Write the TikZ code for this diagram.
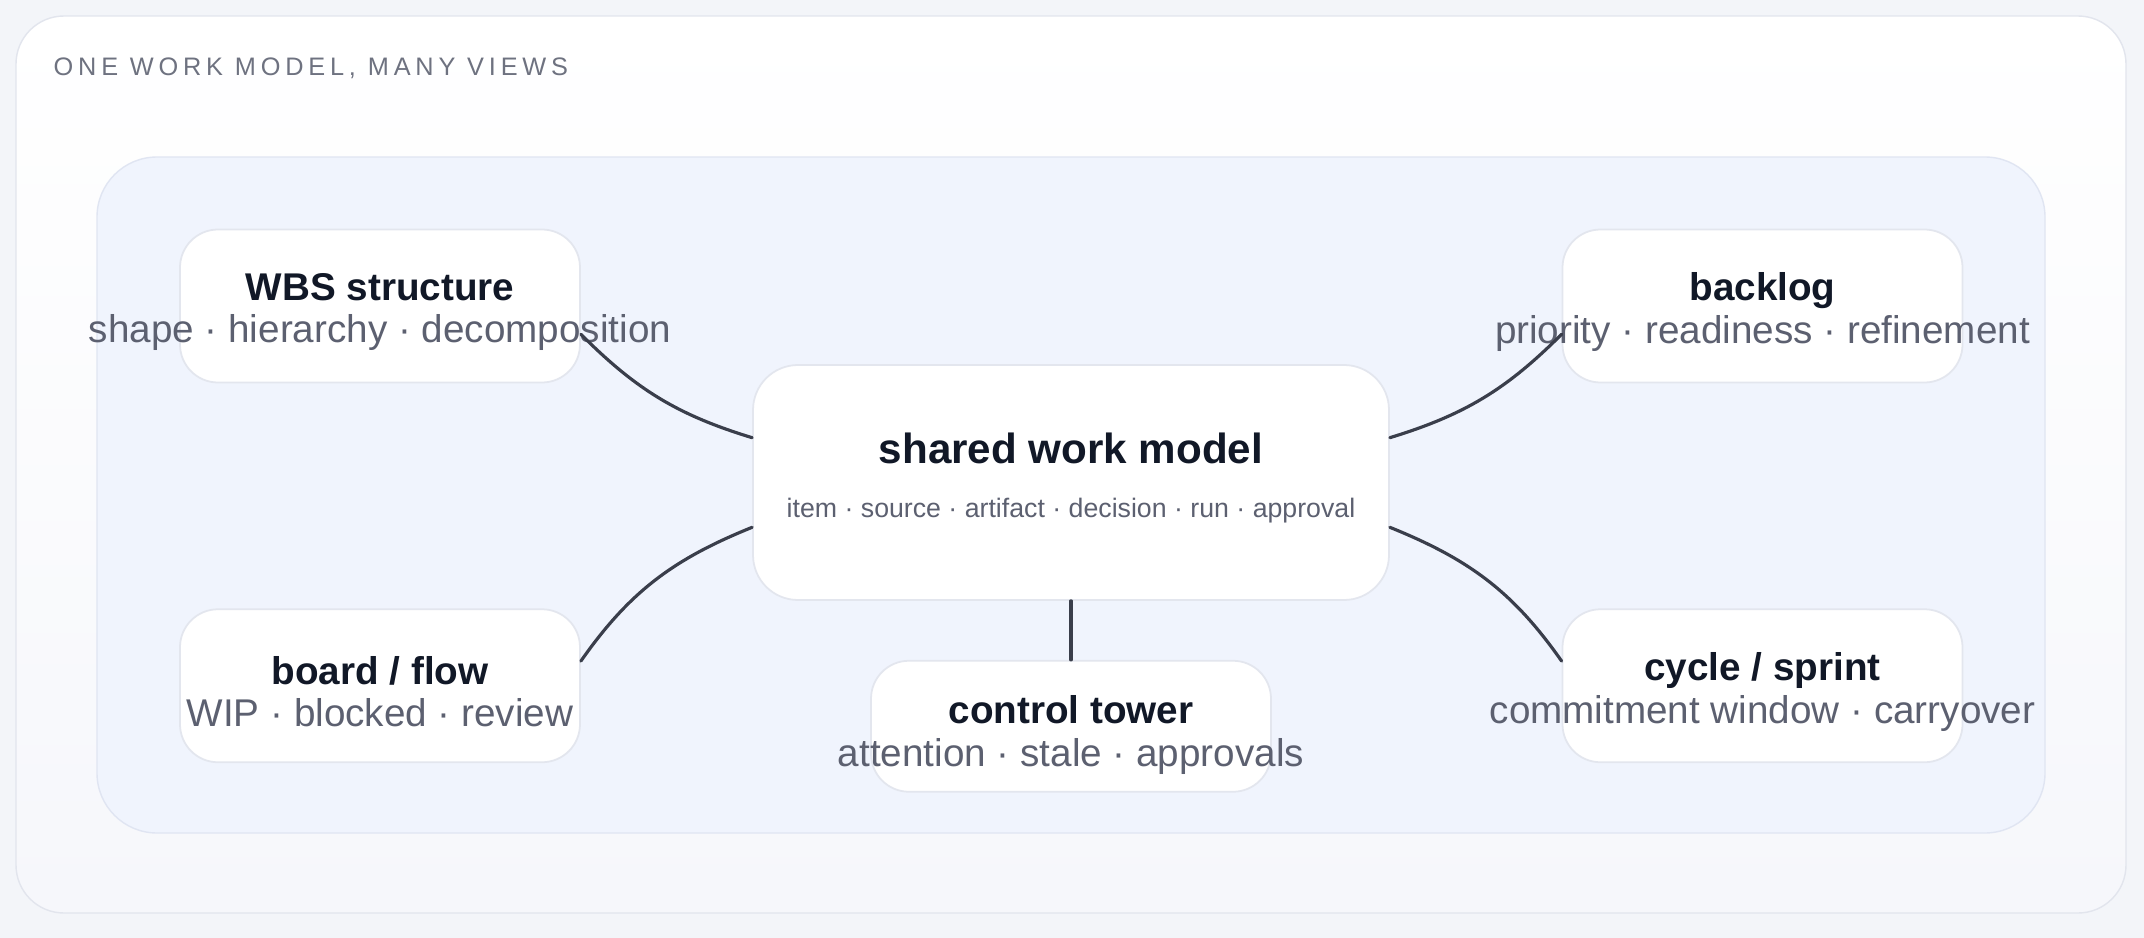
\documentclass[tikz,border=0pt]{standalone}
\usepackage{fontspec}
\setmainfont{Liberation Sans}
\usepackage{tikz}
\usetikzlibrary{
  positioning,
  backgrounds
}
\definecolor{PageGray}{RGB}{243,245,249}
\definecolor{CardTop}{RGB}{255,255,255}
\definecolor{CardBottom}{RGB}{246,247,251}
\definecolor{CardEdge}{RGB}{226,229,237}
\definecolor{PanelBlue}{RGB}{240,244,253}
\definecolor{PanelEdge}{RGB}{224,229,242}
\definecolor{BoxEdge}{RGB}{227,230,238}
\definecolor{TitleInk}{RGB}{17,24,39}
\definecolor{SubInk}{RGB}{92,96,112}
\definecolor{CaptionGray}{RGB}{110,114,128}
\definecolor{LinkInk}{RGB}{58,62,75}
\tikzset{
  viewbox/.style={draw=BoxEdge,fill=white,line width=0.5pt,rounded corners=3.8mm,minimum width=40mm,minimum height=15.3mm,inner sep=0pt},
  modelbox/.style={draw=BoxEdge,fill=white,line width=0.5pt,rounded corners=4.5mm,minimum width=63.6mm,minimum height=23.5mm,inner sep=0pt},
  viewtext/.style={align=center,font=\fontsize{11}{12.1}\selectfont,text=SubInk,inner sep=0pt,yshift=-0.6mm},
  modeltitle/.style={font=\fontsize{12}{14}\selectfont\bfseries,text=TitleInk,inner sep=0pt},
  modelsub/.style={font=\fontsize{7.6}{9}\selectfont,text=SubInk,inner sep=0pt},
  caption/.style={anchor=west,font=\fontsize{7.2}{8}\selectfont\addfontfeatures{LetterSpace=19},text=CaptionGray,inner sep=0pt},
  link/.style={draw=LinkInk,line width=0.9pt,line cap=round}
}
\newcommand{\viewtitle}[1]{{\color{TitleInk}\bfseries #1}}

\begin{document}
\begin{tikzpicture}
\useasboundingbox (0,0) rectangle (21.44,-9.38);
% page, card and panel
\fill[PageGray] (0,0) rectangle (21.44,-9.38);
\draw[draw=CardEdge,top color=CardTop,bottom color=CardBottom,rounded corners=4.8mm] (0.16,-0.16) rectangle (21.26,-9.13);
\draw[draw=PanelEdge,fill=PanelBlue,rounded corners=6mm] (0.97,-1.57) rectangle (20.45,-8.33);
\node[caption] (cap) at (0.53,-0.685) {ONE WORK MODEL, MANY VIEWS};

% boxes
\node[modelbox] (model) at (10.71,-4.825) {};
\node[viewbox] (wbs) at (3.80,-3.06) {};
\node[viewbox, below=22.5mm of wbs] (board) {};
\node[viewbox] (backlog) at (17.625,-3.06) {};
\node[viewbox, below=22.5mm of backlog] (cycle) {};
\node[viewbox, minimum height=13.1mm, below=5.9mm of model] (tower) {};

% texts
\node[modeltitle, yshift=3.4mm] (model-t) at (model) {shared work model};
\node[modelsub, yshift=-2.8mm] (model-s) at (model) {item · source · artifact · decision · run · approval};
\node[viewtext] (wbs-t) at (wbs) {\viewtitle{WBS structure}\\shape · hierarchy · decomposition};
\node[viewtext] (board-t) at (board) {\viewtitle{board / flow}\\WIP · blocked · review};
\node[viewtext] (backlog-t) at (backlog) {\viewtitle{backlog}\\priority · readiness · refinement};
\node[viewtext] (cycle-t) at (cycle) {\viewtitle{cycle / sprint}\\commitment window · carryover};
\node[viewtext, yshift=-0.3mm] (tower-t) at (tower) {\viewtitle{control tower}\\attention · stale · approvals};

% links
\draw[link] (wbs.-8) to[out=-45,in=163] (model.172);
\draw[link] (board.7) to[out=55,in=-158] (model.188);
\draw[link] (model.8) to[out=17,in=-135] (backlog.188);
\draw[link] (model.-8) to[out=-22,in=125] (cycle.173);
\draw[link] (model.south) -- (tower.north);
\end{tikzpicture}
\end{document}
